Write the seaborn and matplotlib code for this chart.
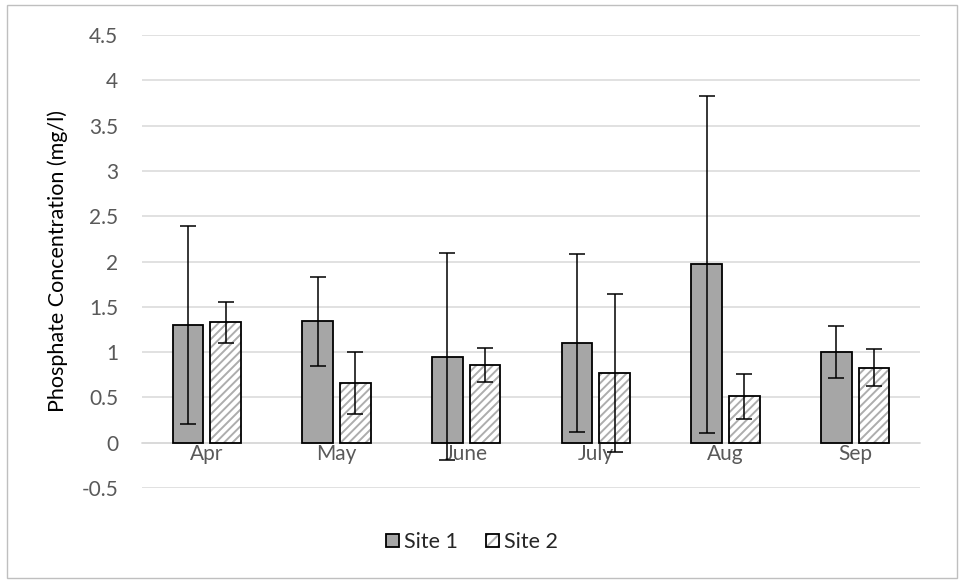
import matplotlib
matplotlib.use("Agg")
import matplotlib.pyplot as plt
from matplotlib.patches import Rectangle, Patch
from matplotlib.ticker import FixedLocator
from matplotlib.legend_handler import HandlerTuple
import numpy as np
import pandas as pd
import seaborn as sns

months = ["Apr", "May", "June", "July", "Aug", "Sep"]
sites = ["Site 1", "Site 2"]
site1_mean = [1.30, 1.34, 0.95, 1.10, 1.97, 1.00]
site1_err = [1.09, 0.49, 1.14, 0.98, 1.86, 0.29]
site2_mean = [1.33, 0.66, 0.86, 0.77, 0.51, 0.83]
site2_err = [0.225, 0.34, 0.185, 0.875, 0.25, 0.205]
yticks = [-0.5, 0, 0.5, 1, 1.5, 2, 2.5, 3, 3.5, 4, 4.5]

df = pd.DataFrame({
    "Month": months * 2,
    "Site": [sites[0]] * 6 + [sites[1]] * 6,
    "Value": site1_mean + site2_mean,
    "Err": site1_err + site2_err,
})

HATCH_COL = "#ADADAD"

sns.set_theme(style="white")
plt.rcParams["font.family"] = ["Lato", "DejaVu Sans"]
plt.rcParams["hatch.linewidth"] = 1.4

fig = plt.figure(figsize=(9.6, 5.81), dpi=100)
ax = fig.add_axes([142 / 960, 1 - 488 / 581, (920 - 142) / 960, (488 - 35) / 581])

sns.barplot(data=df, x="Month", y="Value", hue="Site", order=months,
            hue_order=sites, palette=["#A6A6A6", "#FFFFFF"], width=0.58,
            gap=0.19, errorbar=None, edgecolor="black", linewidth=1.3,
            legend=False, ax=ax, zorder=3)

bars = [p for p in ax.patches if isinstance(p, Rectangle)][:12]
for i, p in enumerate(bars):
    si = i // 6
    mi = i % 6
    if si == 1:
        p.set_hatch("////")
        p.set_edgecolor(HATCH_COL)
        p.set_linewidth(0)
        ax.add_patch(Rectangle((p.get_x(), p.get_y()), p.get_width(), p.get_height(),
                               fill=False, edgecolor="black", linewidth=1.3,
                               zorder=3.5))
    cx = p.get_x() + p.get_width() / 2
    m = df["Value"].iloc[si * 6 + mi]
    e = df["Err"].iloc[si * 6 + mi]
    ax.errorbar(cx, m, yerr=e, fmt="none", ecolor="black", elinewidth=1.1,
                capsize=6, capthick=1.1, zorder=4)

ax.set_ylim(-0.5, 4.5)
ax.set_xlim(-0.5, 5.5)
ax.set_yticks(yticks)
ax.set_yticklabels([("%g" % v) for v in yticks])
ax.grid(axis="y", color="#D9D9D9", linewidth=1.1, zorder=0)
ax.set_axisbelow(True)
for s in ["top", "right", "left"]:
    ax.spines[s].set_visible(False)
ax.spines["bottom"].set_position(("data", 0))
ax.spines["bottom"].set_color("#D9D9D9")
ax.spines["bottom"].set_linewidth(1.1)
ax.spines["bottom"].set_zorder(2)

ax.tick_params(axis="y", length=0, labelsize=15, labelcolor="#595959", pad=17)
ax.tick_params(axis="x", which="major", length=0, labelsize=15,
               labelcolor="#595959", pad=1)
ax.xaxis.set_minor_locator(FixedLocator(np.arange(-0.5, 5.6, 1)))
ax.tick_params(axis="x", which="minor", length=5, color="#D9D9D9", width=1.1)
ax.set_xlabel("")
ax.set_ylabel("Phosphate Concentration (mg/l)", fontsize=15.5, color="#000000",
              labelpad=10)

h1 = Patch(facecolor="#A6A6A6", edgecolor="black", linewidth=1.3)
h2a = Patch(facecolor="white", edgecolor=HATCH_COL, linewidth=0, hatch="///")
h2b = Patch(facecolor="none", edgecolor="black", linewidth=1.3)
fig.legend([h1, (h2a, h2b)], sites, loc="center",
           bbox_to_anchor=(472 / 960, 1 - 542 / 581),
           handler_map={tuple: HandlerTuple(ndivide=1, pad=0)},
           ncol=2, frameon=False, fontsize=15.5, handlelength=0.6, handleheight=0.6,
           handletextpad=0.25, columnspacing=1.3)

fig.patches.append(Rectangle((7 / 960, 3 / 581), (957 - 7) / 960, (578 - 5) / 581,
                             transform=fig.transFigure, fill=False,
                             edgecolor="#BFBFBF", linewidth=1.0))

fig.savefig("out.png", dpi=100)
